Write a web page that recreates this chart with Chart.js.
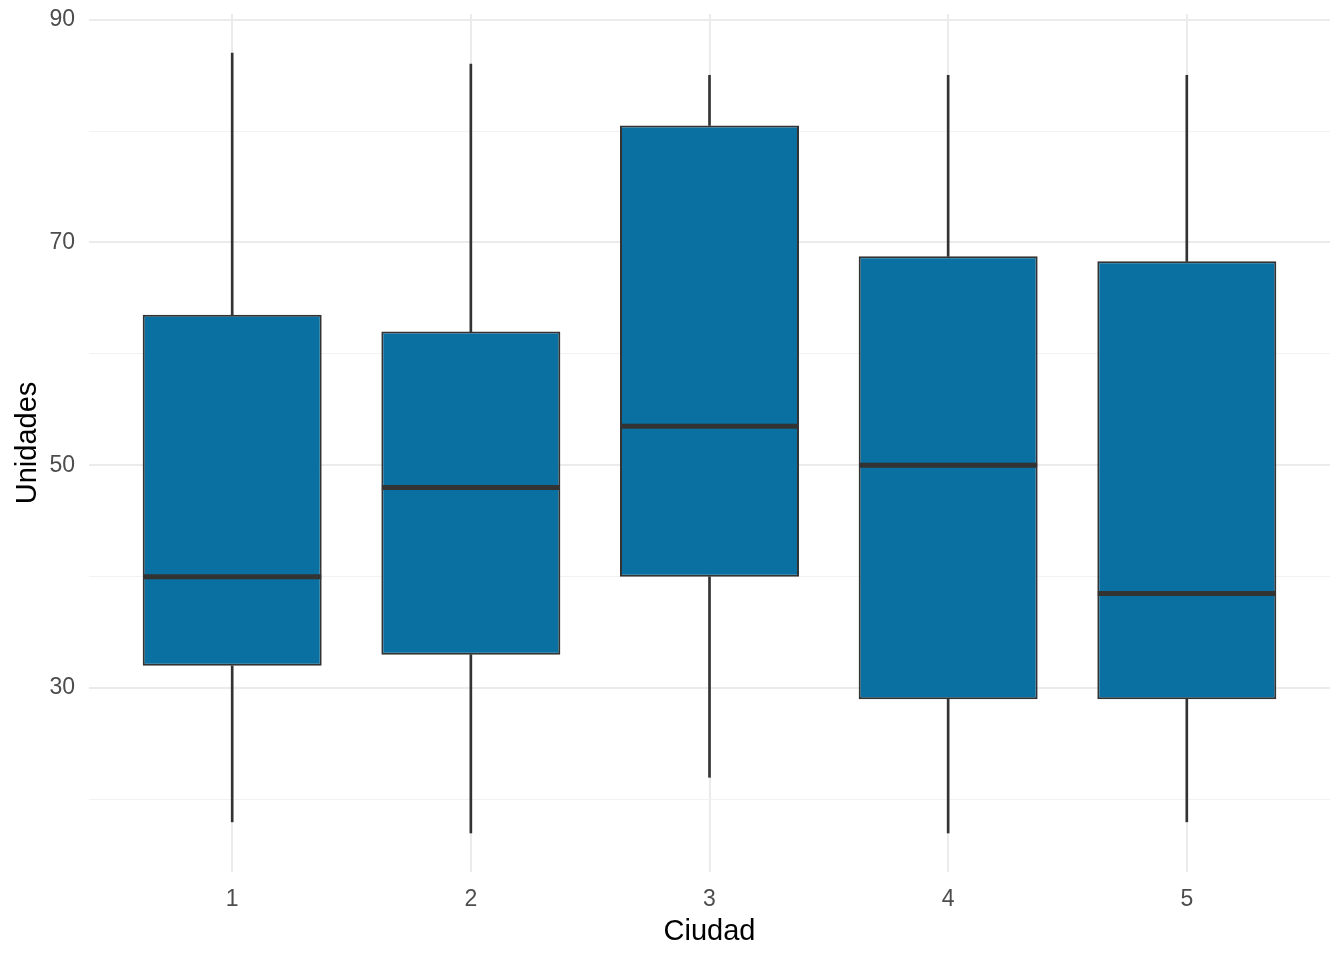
<!DOCTYPE html>
<html>
<head>
<meta charset="utf-8">
<script src="https://cdn.jsdelivr.net/npm/chart.js@4.4.1/dist/chart.umd.min.js"></script>
<style>
  html, body { margin: 0; padding: 0; background: #fff; }
  #wrap { width: 1344px; height: 960px; }
</style>
</head>
<body>
<div id="wrap"><canvas id="grafica"></canvas></div>
<script>
// valores (Unidades por Ciudad)
const ciudades = [1, 2, 3, 4, 5];
const minimos = [18, 17, 22, 17, 18];
const cuartil1 = [32, 33, 40, 29, 29];
const medianas = [40, 48, 53.5, 50, 38.5];
const cuartil3 = [63.5, 62, 80.5, 68.75, 68.3];
const maximos = [87, 86, 85, 85, 85];
const ticksY = [20, 30, 40, 50, 60, 70, 80, 90];
const etiquetasY = [30, 50, 70, 90];

const azul = "#0a6fa1";
const oscuro = "#333333";

const cajas = ciudades.map((c, i) => ({ x: c, y: [cuartil1[i], cuartil3[i]] }));
const bigoteBajo = ciudades.map((c, i) => ({ x: c, y: [minimos[i], cuartil1[i]] }));
const bigoteAlto = ciudades.map((c, i) => ({ x: c, y: [cuartil3[i], maximos[i]] }));
const puntosMediana = ciudades.map((c, i) => ({ x: c, y: medianas[i] }));

const ctx = document.getElementById("grafica").getContext("2d");
new Chart(ctx, {
    data: {
        datasets: [
            {
                type: "line", label: "mediana", data: puntosMediana, order: 0,
                showLine: false, pointStyle: "line", pointRadius: 89,
                pointBorderWidth: 5, pointBorderColor: oscuro, pointHoverRadius: 89
            },
            {
                type: "bar", label: "caja", data: cajas, order: 1, grouped: false,
                backgroundColor: azul, borderColor: oscuro, borderWidth: 2,
                borderSkipped: false, categoryPercentage: 1, barPercentage: 0.75
            },
            {
                type: "bar", label: "bigote bajo", data: bigoteBajo, order: 2, grouped: false,
                backgroundColor: oscuro, barThickness: 2, borderWidth: 0
            },
            {
                type: "bar", label: "bigote alto", data: bigoteAlto, order: 2, grouped: false,
                backgroundColor: oscuro, barThickness: 2, borderWidth: 0
            }
        ]
    },
    options: {
        responsive: true,
        maintainAspectRatio: false,
        animation: false,
        layout: { autoPadding: false, padding: { left: 0, right: 14, top: 14, bottom: 0 } },
        plugins: { legend: { display: false }, tooltip: { enabled: false } },
        scales: {
            x: {
                type: "linear", min: 0.4, max: 5.6, offset: false,
                afterBuildTicks: s => { s.ticks = ciudades.map(v => ({ value: v })); },
                afterFit: s => { s.height = 88; },
                grid: { color: "#ebebeb", lineWidth: 2, drawTicks: false, offset: false },
                border: { display: false },
                ticks: {
                    color: "#4d4d4d", padding: 14,
                    font: { family: "Liberation Sans", size: 23 }
                },
                title: {
                    display: true, text: "Ciudad", color: "#000",
                    font: { family: "Liberation Sans", size: 29 },
                    padding: { top: 0, bottom: 11 }
                }
            },
            y: {
                min: 13.5, max: 90.5,
                afterBuildTicks: s => { s.ticks = ticksY.map(v => ({ value: v })); },
                afterFit: s => { s.width = 89; s.paddingTop = 0; s.paddingBottom = 0; },
                grid: {
                    drawTicks: false,
                    color: c => etiquetasY.includes(c.tick.value) ? "#ebebeb" : "#f2f2f2",
                    lineWidth: c => etiquetasY.includes(c.tick.value) ? 2 : 1
                },
                border: { display: false },
                ticks: {
                    color: "#4d4d4d", padding: 14,
                    font: { family: "Liberation Sans", size: 23 },
                    callback: v => etiquetasY.includes(v) ? String(v) : ""
                },
                title: {
                    display: true, text: "Unidades", color: "#000",
                    font: { family: "Liberation Sans", size: 29 },
                    padding: { top: 11, bottom: 0 }
                }
            }
        }
    }
});
</script>
</body>
</html>
